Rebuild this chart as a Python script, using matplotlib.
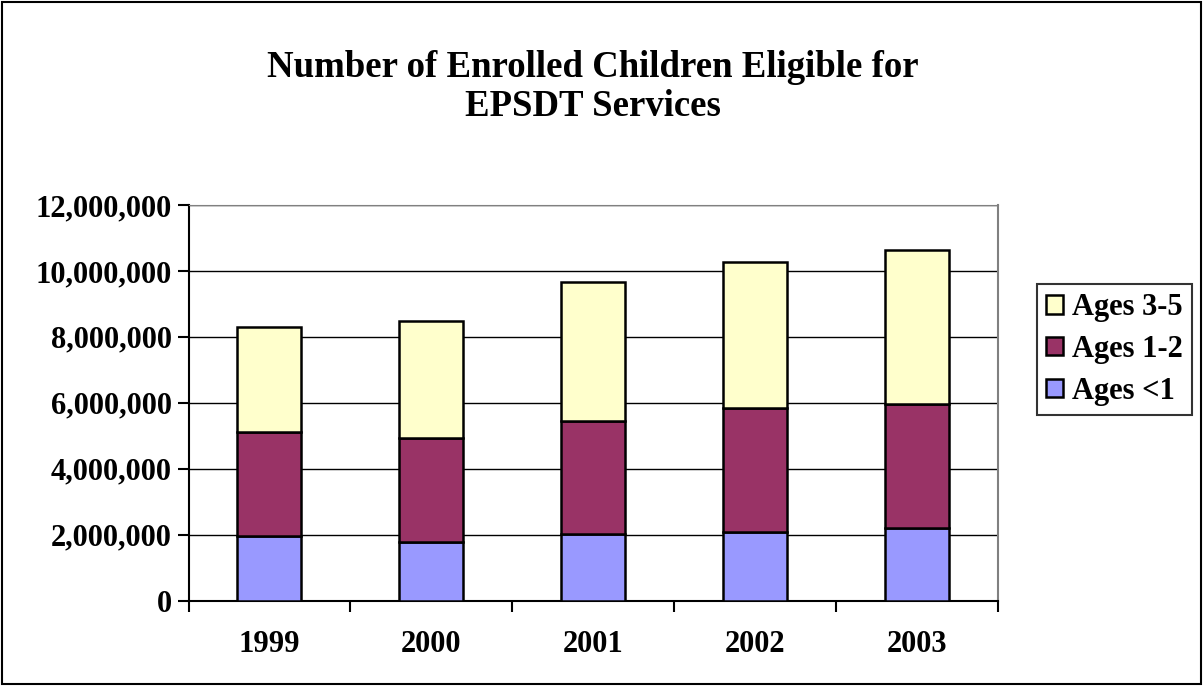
import numpy as np
import matplotlib.pyplot as plt
from matplotlib.patches import Rectangle
from matplotlib.ticker import FuncFormatter, FixedLocator

# data
years = ['1999', '2000', '2001', '2002', '2003']
ages_lt1 = [1.95e6, 1.77e6, 2.02e6, 2.07e6, 2.19e6]
ages_1_2 = [3.15e6, 3.15e6, 3.44e6, 3.76e6, 3.77e6]
ages_3_5 = [3.21e6, 3.57e6, 4.19e6, 4.43e6, 4.66e6]

plt.rcParams['font.family'] = ['Liberation Serif', 'DejaVu Serif']
plt.rcParams['font.weight'] = 'bold'

W, H = 1203, 686
fig = plt.figure(figsize=(W / 100, H / 100), dpi=100)
ax = fig.add_axes([188.5 / W, (H - 600.5) / H, (998 - 188.5) / W, (600.5 - 205) / H])

x = np.arange(len(years))
w = 0.395
b1 = ax.bar(x, ages_lt1, w, color='#9999ff', edgecolor='black', linewidth=1.8, label='Ages <1', zorder=3)
b2 = ax.bar(x, ages_1_2, w, bottom=ages_lt1, color='#993366', edgecolor='black', linewidth=1.8, label='Ages 1-2', zorder=3)
bottom2 = np.array(ages_lt1) + np.array(ages_1_2)
b3 = ax.bar(x, ages_3_5, w, bottom=bottom2, color='#ffffcc', edgecolor='black', linewidth=1.8, label='Ages 3-5', zorder=3)

ax.set_xlim(-0.5, len(years) - 0.5)
ax.set_ylim(0, 12e6)
ax.set_yticks(np.arange(0, 12e6 + 1, 2e6))
ax.yaxis.set_major_formatter(FuncFormatter(lambda v, p: f'{int(v):,}'))
ax.yaxis.grid(True, color='black', linewidth=1.0, zorder=0)

ax.set_xticks(x)
ax.set_xticklabels(years)
ax.tick_params(axis='x', which='major', length=0, pad=21, labelsize=22)
ax.xaxis.set_minor_locator(FixedLocator(np.arange(-0.5, len(years), 1)))
ax.tick_params(axis='x', which='minor', length=8, width=1.5, direction='out')
ax.tick_params(axis='y', length=8, width=1.5, direction='out', labelsize=22, pad=4)

for lbl in ax.get_xticklabels() + ax.get_yticklabels():
    lbl.set_fontweight('bold')

ax.spines['left'].set_linewidth(1.5)
ax.spines['bottom'].set_linewidth(1.5)
ax.spines['top'].set_color('#808080')
ax.spines['right'].set_color('#808080')
ax.spines['right'].set_linewidth(1.5)

fig.text(593 / W, 0.873, 'Number of Enrolled Children Eligible for\nEPSDT Services',
         ha='center', va='center', fontsize=26.5, fontweight='bold', linespacing=1.15)

handles = [b3, b2, b1]
leg = fig.legend(handles, [h.get_label() for h in handles], loc='upper left',
                 bbox_to_anchor=(1037 / W, 1 - 284 / H), fontsize=22,
                 frameon=True, fancybox=False, edgecolor='black', handlelength=0.55,
                 handleheight=0.55, handletextpad=0.3, borderpad=0.3, labelspacing=0.42,
                 borderaxespad=0)
leg.get_frame().set_linewidth(1.5)
for t in leg.get_texts():
    t.set_fontweight('bold')

fig.patches.append(Rectangle((0.002, 0.003), 0.996, 0.994, transform=fig.transFigure,
                             fill=False, edgecolor='black', linewidth=1.5))

fig.savefig('out.png', dpi=100)
